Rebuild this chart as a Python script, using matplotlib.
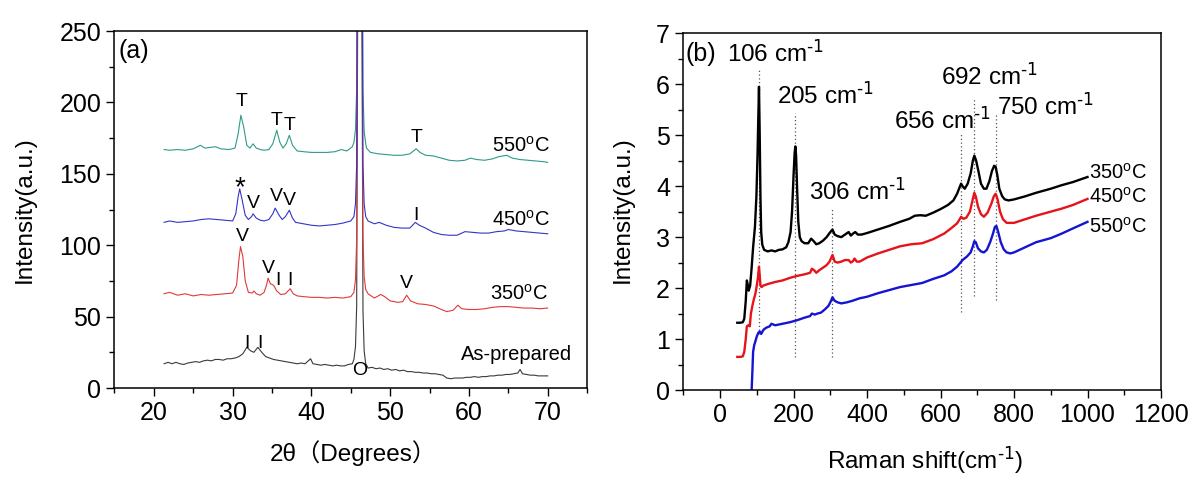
import numpy as np
import matplotlib
matplotlib.use("Agg")
import matplotlib.pyplot as plt
from matplotlib.ticker import MultipleLocator

plt.rcParams['font.family'] = ['Liberation Sans', 'Noto Sans CJK SC', 'DejaVu Sans']
plt.rcParams['mathtext.default'] = 'regular'

# ---------------- XRD data (panel a) ----------------
# shared substrate peak (O) near 46.2 deg, offsets above local baseline
peak_x = [45.4, 45.6, 45.75, 45.9, 46.4, 46.55, 46.7, 46.9]
peak_dy = [3, 12, 40, 280, 280, 40, 12, 3]

asprep_x = [21.3, 21.8, 22.3, 22.8, 23.3, 23.8, 24.3, 24.8, 25.3, 25.8, 26.3, 26.8, 27.3, 27.8,
            28.3, 28.8, 29.3, 29.8, 30.3, 30.8, 31.3, 31.8, 32.3, 32.7, 33.2, 33.7, 34.2, 34.7,
            35.2, 35.7, 36.2, 36.7, 37.2, 37.7, 38.2, 38.7, 39.2, 39.7, 39.9, 40.2, 40.7, 41.2,
            41.7, 42.2, 42.7, 43.2, 43.7, 44.2, 44.7, 45.2]
asprep_y = [17, 18, 17, 18, 17, 16.5, 17.5, 18, 18.5, 18, 19, 19.5, 19, 20,
            20, 19.5, 20.5, 20.5, 21, 22, 24, 28.5, 26, 25, 28.5, 25, 22, 21,
            20, 19.5, 19, 18.5, 18, 17.5, 17, 17.5, 17, 19.5, 20.5, 17, 16.5, 16,
            16.5, 16, 15.5, 16, 15.5, 15.5, 16.5, 17]
asprep_x2 = [47.2, 47.7, 48.2, 48.7, 49.2, 49.7, 50.2, 50.7, 51.2, 51.7, 52.2, 52.7, 53.2, 53.7,
             54.2, 54.7, 55.2, 55.7, 56.2, 56.7, 57.2, 57.7, 58.2, 58.7, 59.2, 59.7, 60.2, 60.7,
             61.2, 61.7, 62.2, 62.7, 63.2, 63.7, 64.2, 64.7, 65.2, 65.7, 66.2, 66.5, 66.8, 67.3,
             67.8, 68.3, 68.8, 69.3, 70.0]
asprep_y2 = [14, 14.5, 13.5, 14, 13, 13.5, 12.5, 13, 12, 12.5, 11.5, 11.5, 11, 11,
             10.5, 10.5, 10, 10, 9.5, 9, 7, 6.5, 7, 7, 7, 7.5, 7.5, 8,
             7.5, 8, 8, 8.5, 8.5, 9, 9, 9.5, 9.5, 10, 10.5, 13, 10, 9.5,
             9, 9, 8.5, 8.5, 8.5]

t350_x = [21.3, 22, 23, 24, 25, 26, 27, 28, 29, 30, 30.5, 30.8, 31.0, 31.3, 31.6, 32.0, 32.5,
          32.7, 33.0, 33.5, 34.0, 34.3, 34.5, 34.8, 35.2, 35.6, 36.1, 36.7, 37.3, 37.7, 38.2,
          39, 40, 41, 42, 43, 44, 45]
t350_y = [66, 67, 65, 66, 64.5, 65.5, 65, 65.5, 66, 66.5, 72, 90, 99, 92, 75, 67, 66.5,
          68, 66, 65, 67, 72, 77, 73, 72, 68, 65.5, 66, 69.5, 66, 64.5,
          64, 63.5, 63.5, 63, 63.5, 63, 64]
t350_x2 = [47.2, 48, 48.8, 49.3, 50, 51, 51.6, 52.1, 52.6, 53.5, 54.5, 55.5, 56.5, 57.2, 58,
           58.6, 59.1, 60, 61, 62, 63, 64, 65, 66, 67, 68, 69, 70]
t350_y2 = [66, 63, 65.5, 64, 61, 60, 60.5, 65, 61, 59, 58.5, 57.5, 55, 53.5, 54.5,
           58, 55.5, 55, 55, 55.5, 56.5, 57, 57, 56.5, 56, 56, 55.5, 56]

t450_x = [21.3, 22, 23, 24, 25, 26, 27, 28, 29, 30, 30.4, 30.7, 30.9, 31.2, 31.6, 32.0, 32.4,
          32.6, 33.0, 33.5, 34.0, 34.6, 35.1, 35.4, 35.9, 36.3, 36.7, 37.2, 37.6, 38, 39, 40,
          41, 42, 43, 44, 45]
t450_y = [116, 117, 116, 116.5, 117, 118, 118.5, 118, 117.5, 117, 122, 134, 139.5, 132, 121, 118, 120,
          122, 119, 117.5, 117, 118, 122, 126, 121, 118, 120, 124.5, 119, 116, 115, 114,
          113.5, 114, 114.5, 115.5, 117]
t450_x2 = [47.2, 48, 48.6, 49.5, 50.5, 51.5, 52.5, 53.2, 53.7, 54.5, 55.5, 56.5, 57.5, 58.5,
           59.5, 60.5, 61.5, 62.5, 63.5, 64.5, 65, 66, 67, 68, 69, 70]
t450_y2 = [117, 115, 116, 114, 112.5, 112, 112, 116, 114, 112, 109, 107.5, 107, 107,
           109.5, 109, 108.5, 108.5, 109.5, 110, 111, 110, 109.5, 109, 108.5, 108]

t550_x = [21.3, 22, 23, 24, 25, 25.9, 26.5, 27.8, 28.5, 29.5, 30.3, 30.7, 31.05, 31.4, 31.8,
          32.2, 32.6, 33, 33.5, 34, 34.6, 35.1, 35.6, 36.0, 36.4, 36.8, 37.2, 37.6, 38.2,
          39, 40, 41, 42, 43, 43.8, 44.5, 45.2]
t550_y = [167, 166.5, 167, 166.5, 167.5, 170, 168, 169, 167.5, 167, 168, 178, 191, 183, 170,
          168, 171, 168, 167, 166.5, 167, 171, 180.5, 172, 168, 171, 177, 170, 166,
          165.5, 165, 165, 165, 165.5, 167, 166, 169]
t550_x2 = [47, 47.5, 48.5, 49.5, 50.5, 51.5, 52.5, 53.3, 53.8, 54.5, 55.5, 56.5, 57.5, 58.5,
           59.5, 60.2, 61, 62, 63, 63.8, 64.8, 65.5, 66.5, 67.5, 68.5, 69.5, 70]
t550_y2 = [168, 165, 164, 163.5, 163, 163, 164, 167.5, 165, 163, 162.5, 161, 159.5, 159,
           159.5, 161, 160, 159.5, 160.5, 162, 163, 161, 160, 159.5, 159, 158.5, 158]

xrd_labels = ['As-prepared', '350$^{o}$C', '450$^{o}$C', '550$^{o}$C']

# phase markers: (text, x, y)
marks = [('T', 31.1, 200.5), ('T', 35.6, 187), ('T', 37.2, 183.5), ('T', 53.4, 175.5),
         ('*', 30.9, 140), ('V', 32.7, 129), ('V', 35.5, 134), ('V', 37.2, 131.6),
         ('I', 53.3, 121),
         ('V', 31.2, 106), ('V', 34.5, 83.8), ('I', 35.7, 75.6), ('I', 37.3, 75.6),
         ('V', 52.1, 73.3),
         ('I', 31.8, 31), ('I', 33.5, 31), ('O', 46.1, 12)]

# ---------------- Raman data (panel b) ----------------
r350_x = [47, 55, 62, 66, 70, 73, 76, 78, 82, 86, 90, 95, 99, 102, 104, 106, 108, 110, 112, 115,
          120, 130, 140, 150, 160, 170, 180, 186, 192, 196, 200, 203, 205, 207, 210, 213, 217,
          222, 230, 240, 248, 255, 262, 270, 280, 290, 298, 306, 312, 320, 330, 340, 350, 356,
          362, 368, 375, 385, 400, 430, 460, 490, 515, 530, 545, 560, 580, 600, 620, 635, 645,
          652, 656, 660, 666, 674, 682, 688, 692, 697, 703, 710, 718, 725, 733, 740, 746, 750,
          755, 760, 768, 775, 785, 800, 830, 860, 900, 930, 960, 1000]
r350_y = [1.32, 1.32, 1.33, 1.4, 1.75, 2.15, 2.05, 1.95, 2.05, 2.4, 2.8, 3.2, 3.8, 4.6, 5.3, 5.95,
          5.0, 3.8, 3.1, 2.85, 2.75, 2.72, 2.74, 2.72, 2.75, 2.76, 2.8, 2.9, 3.1, 3.5, 4.2, 4.65,
          4.78, 4.6, 3.9, 3.3, 3.0, 2.92, 2.88, 2.88, 2.97, 2.92, 2.86, 2.88, 2.93, 3.0, 3.08,
          3.15, 3.05, 3.02, 3.0, 3.05, 3.1, 3.03, 3.07, 3.1, 3.05, 3.05, 3.08, 3.15, 3.22, 3.3,
          3.36, 3.42, 3.43, 3.42, 3.48, 3.55, 3.63, 3.72, 3.85, 3.98, 4.05, 4.0, 3.95, 4.05,
          4.25, 4.5, 4.6, 4.5, 4.3, 4.05, 3.95, 3.95, 4.1, 4.3, 4.4, 4.38, 4.2, 3.95, 3.8,
          3.74, 3.72, 3.74, 3.8, 3.87, 3.95, 4.02, 4.08, 4.18]

r450_x = [47, 55, 62, 66, 70, 73, 77, 81, 84, 88, 92, 96, 100, 103, 106, 108, 110, 113, 118,
          130, 150, 170, 190, 210, 230, 245, 250, 256, 262, 270, 280, 290, 298, 306, 312, 320,
          330, 340, 350, 356, 362, 366, 372, 380, 400, 430, 460, 490, 520, 550, 580, 610, 630,
          645, 652, 656, 662, 670, 680, 688, 692, 696, 702, 710, 718, 728, 738, 745, 750, 755,
          762, 770, 780, 800, 830, 860, 900, 930, 960, 1000]
r450_y = [0.65, 0.65, 0.66, 0.75, 1.0, 1.25, 1.27, 1.25, 1.5, 1.65, 1.78, 1.88, 2.05, 2.2,
          2.42, 2.25, 2.05, 2.02, 2.05, 2.08, 2.12, 2.15, 2.2, 2.24, 2.27, 2.3, 2.38, 2.35, 2.3,
          2.35, 2.4, 2.45, 2.52, 2.65, 2.52, 2.5, 2.52, 2.55, 2.55, 2.5, 2.53, 2.58, 2.52, 2.52,
          2.6, 2.68, 2.75, 2.82, 2.86, 2.88, 2.96, 3.07, 3.18, 3.27, 3.35, 3.4, 3.36, 3.38, 3.5,
          3.75, 3.87, 3.8, 3.6, 3.45, 3.4, 3.48, 3.65, 3.8, 3.85, 3.75, 3.5, 3.35, 3.28, 3.28,
          3.35, 3.42, 3.5, 3.56, 3.63, 3.75]

r550_x = [83, 86, 88, 90, 93, 96, 100, 104, 108, 112, 118, 125, 135, 140, 150, 170, 190, 210,
          230, 245, 250, 258, 265, 275, 285, 295, 302, 306, 312, 320, 330, 345, 360, 380, 400,
          430, 460, 490, 520, 550, 580, 610, 630, 645, 660, 672, 682, 688, 692, 696, 702, 710,
          718, 726, 735, 742, 748, 752, 757, 764, 772, 780, 790, 800, 830, 860, 900, 930, 960,
          1000]
r550_y = [-0.3, 0.0, 0.35, 0.75, 0.88, 0.95, 1.05, 1.12, 1.15, 1.1, 1.18, 1.22, 1.25, 1.3, 1.27,
          1.3, 1.33, 1.37, 1.42, 1.45, 1.5, 1.48, 1.5, 1.52, 1.58, 1.65, 1.75, 1.82, 1.75, 1.72,
          1.7, 1.72, 1.75, 1.8, 1.83, 1.9, 1.96, 2.02, 2.06, 2.1, 2.18, 2.25, 2.33, 2.42, 2.55,
          2.62, 2.7, 2.82, 2.92, 2.9, 2.78, 2.72, 2.7, 2.75, 2.9, 3.05, 3.2, 3.22, 3.1, 2.9,
          2.76, 2.7, 2.68, 2.7, 2.8, 2.9, 2.98, 3.07, 3.17, 3.3]

raman_labels = ['350$^{o}$C', '450$^{o}$C', '550$^{o}$C']

# dotted guide lines: (x, ymin, ymax)
guides = [(106, 1.1, 6.28), (205, 0.64, 5.43), (306, 0.64, 3.6),
          (656, 1.53, 5.03), (692, 1.85, 5.72), (750, 1.76, 5.43)]
# peak labels: (text, x, y)
sup = r'$^{\text{-1}}$'
peak_text = [('106 cm' + sup, 151, 6.6), ('205 cm' + sup, 286, 5.79),
             ('306 cm' + sup, 375, 3.89), ('656 cm' + sup, 606, 5.3),
             ('692 cm' + sup, 734, 6.15), ('750 cm' + sup, 885, 5.56)]


def with_peak(x1, y1, x2, y2):
    # join both halves through the clipped substrate peak
    base_l = y1[-1]
    base_r = y2[0]
    py = []
    for i, dx in enumerate(peak_x):
        b = base_l if dx < 46.15 else base_r
        py.append(b + peak_dy[i])
    return list(x1) + list(peak_x) + list(x2), list(y1) + py + list(y2)


fig = plt.figure(figsize=(12, 4.84), dpi=100)
ax1 = fig.add_axes([0.0954, 0.1983, 0.3938, 0.7376])
ax2 = fig.add_axes([0.5694, 0.1942, 0.3981, 0.737])

fs_tick = 18
fs_lab = 17.5

# ---- panel a ----
xa, ya = with_peak(asprep_x, asprep_y, asprep_x2, asprep_y2)
x3, y3 = with_peak(t350_x, t350_y, t350_x2, t350_y2)
x4, y4 = with_peak(t450_x, t450_y, t450_x2, t450_y2)
x5, y5 = with_peak(t550_x, t550_y, t550_x2, t550_y2)

ax1.plot(x5, y5, color='#2f9a88', lw=0.8)
ax1.plot(xa, ya, color='#3a3a3a', lw=0.8)
ax1.plot(x3, y3, color='#e0393b', lw=0.8)
ax1.plot(x4, y4, color='#3434c8', lw=0.8)

ax1.set_xlim(15, 75)
ax1.set_ylim(0, 250)
ax1.xaxis.set_major_locator(MultipleLocator(10))
ax1.xaxis.set_minor_locator(MultipleLocator(5))
ax1.yaxis.set_major_locator(MultipleLocator(50))
ax1.yaxis.set_minor_locator(MultipleLocator(25))

for t, x, y in marks:
    ax1.text(x, y, t, ha='center', va='center', fontsize=14 if t != '*' else 20)

ax1.text(70.3, 170, xrd_labels[3], ha='right', va='center', fontsize=14.5)
ax1.text(70.3, 117.6, xrd_labels[2], ha='right', va='center', fontsize=14.5)
ax1.text(70.0, 66, xrd_labels[1], ha='right', va='center', fontsize=14.5)
ax1.text(73.1, 23.6, xrd_labels[0], ha='right', va='center', fontsize=14.5)
ax1.text(15.5, 236, '(a)', ha='left', va='center', fontsize=18)

ax1.set_xlabel('2θ（Degrees）', fontsize=fs_lab)
ax1.set_ylabel('Intensity(a.u.)', fontsize=fs_lab)
ax1.xaxis.set_label_coords(0.505, -0.182)
ax1.xaxis.label.set_va('center')
ax1.yaxis.set_label_coords(-0.189, 0.5)
ax1.yaxis.label.set_va('center')

# ---- panel b ----
for gx, g0, g1 in guides:
    ax2.plot([gx, gx], [g0, g1], color='#555555', lw=0.9, ls=(0, (1, 2)))

ax2.plot(r350_x, r350_y, color='black', lw=1.7)
ax2.plot(r450_x, r450_y, color='#e5141b', lw=1.7)
ax2.plot(r550_x, r550_y, color='#1414d2', lw=1.7)

ax2.set_xlim(-100, 1200)
ax2.set_ylim(0, 7)
ax2.xaxis.set_major_locator(MultipleLocator(200))
ax2.xaxis.set_minor_locator(MultipleLocator(100))
ax2.yaxis.set_major_locator(MultipleLocator(1))
ax2.yaxis.set_minor_locator(MultipleLocator(0.5))

for t, x, y in peak_text:
    ax2.text(x, y, t, ha='center', va='center', fontsize=17.5)

ax2.text(1005, 4.26, raman_labels[0], ha='left', va='center', fontsize=14.5)
ax2.text(1005, 3.79, raman_labels[1], ha='left', va='center', fontsize=14.5)
ax2.text(1005, 3.2, raman_labels[2], ha='left', va='center', fontsize=14.5)
ax2.text(-94, 6.6, '(b)', ha='left', va='center', fontsize=18)

ax2.set_xlabel('Raman shift(cm' + sup + ')', fontsize=fs_lab)
ax2.set_ylabel('Intensity(a.u.)', fontsize=fs_lab)
ax2.xaxis.set_label_coords(0.506, -0.196)
ax2.xaxis.label.set_va('center')
ax2.yaxis.set_label_coords(-0.126, 0.505)
ax2.yaxis.label.set_va('center')

for ax in (ax1, ax2):
    ax.tick_params(which='both', direction='out', top=False, right=False, labelsize=fs_tick)
    ax.tick_params(which='major', length=6, width=1)
    ax.tick_params(which='minor', length=3.5, width=1)
    for s in ax.spines.values():
        s.set_linewidth(1.1)

fig.savefig('out.png', dpi=100)
